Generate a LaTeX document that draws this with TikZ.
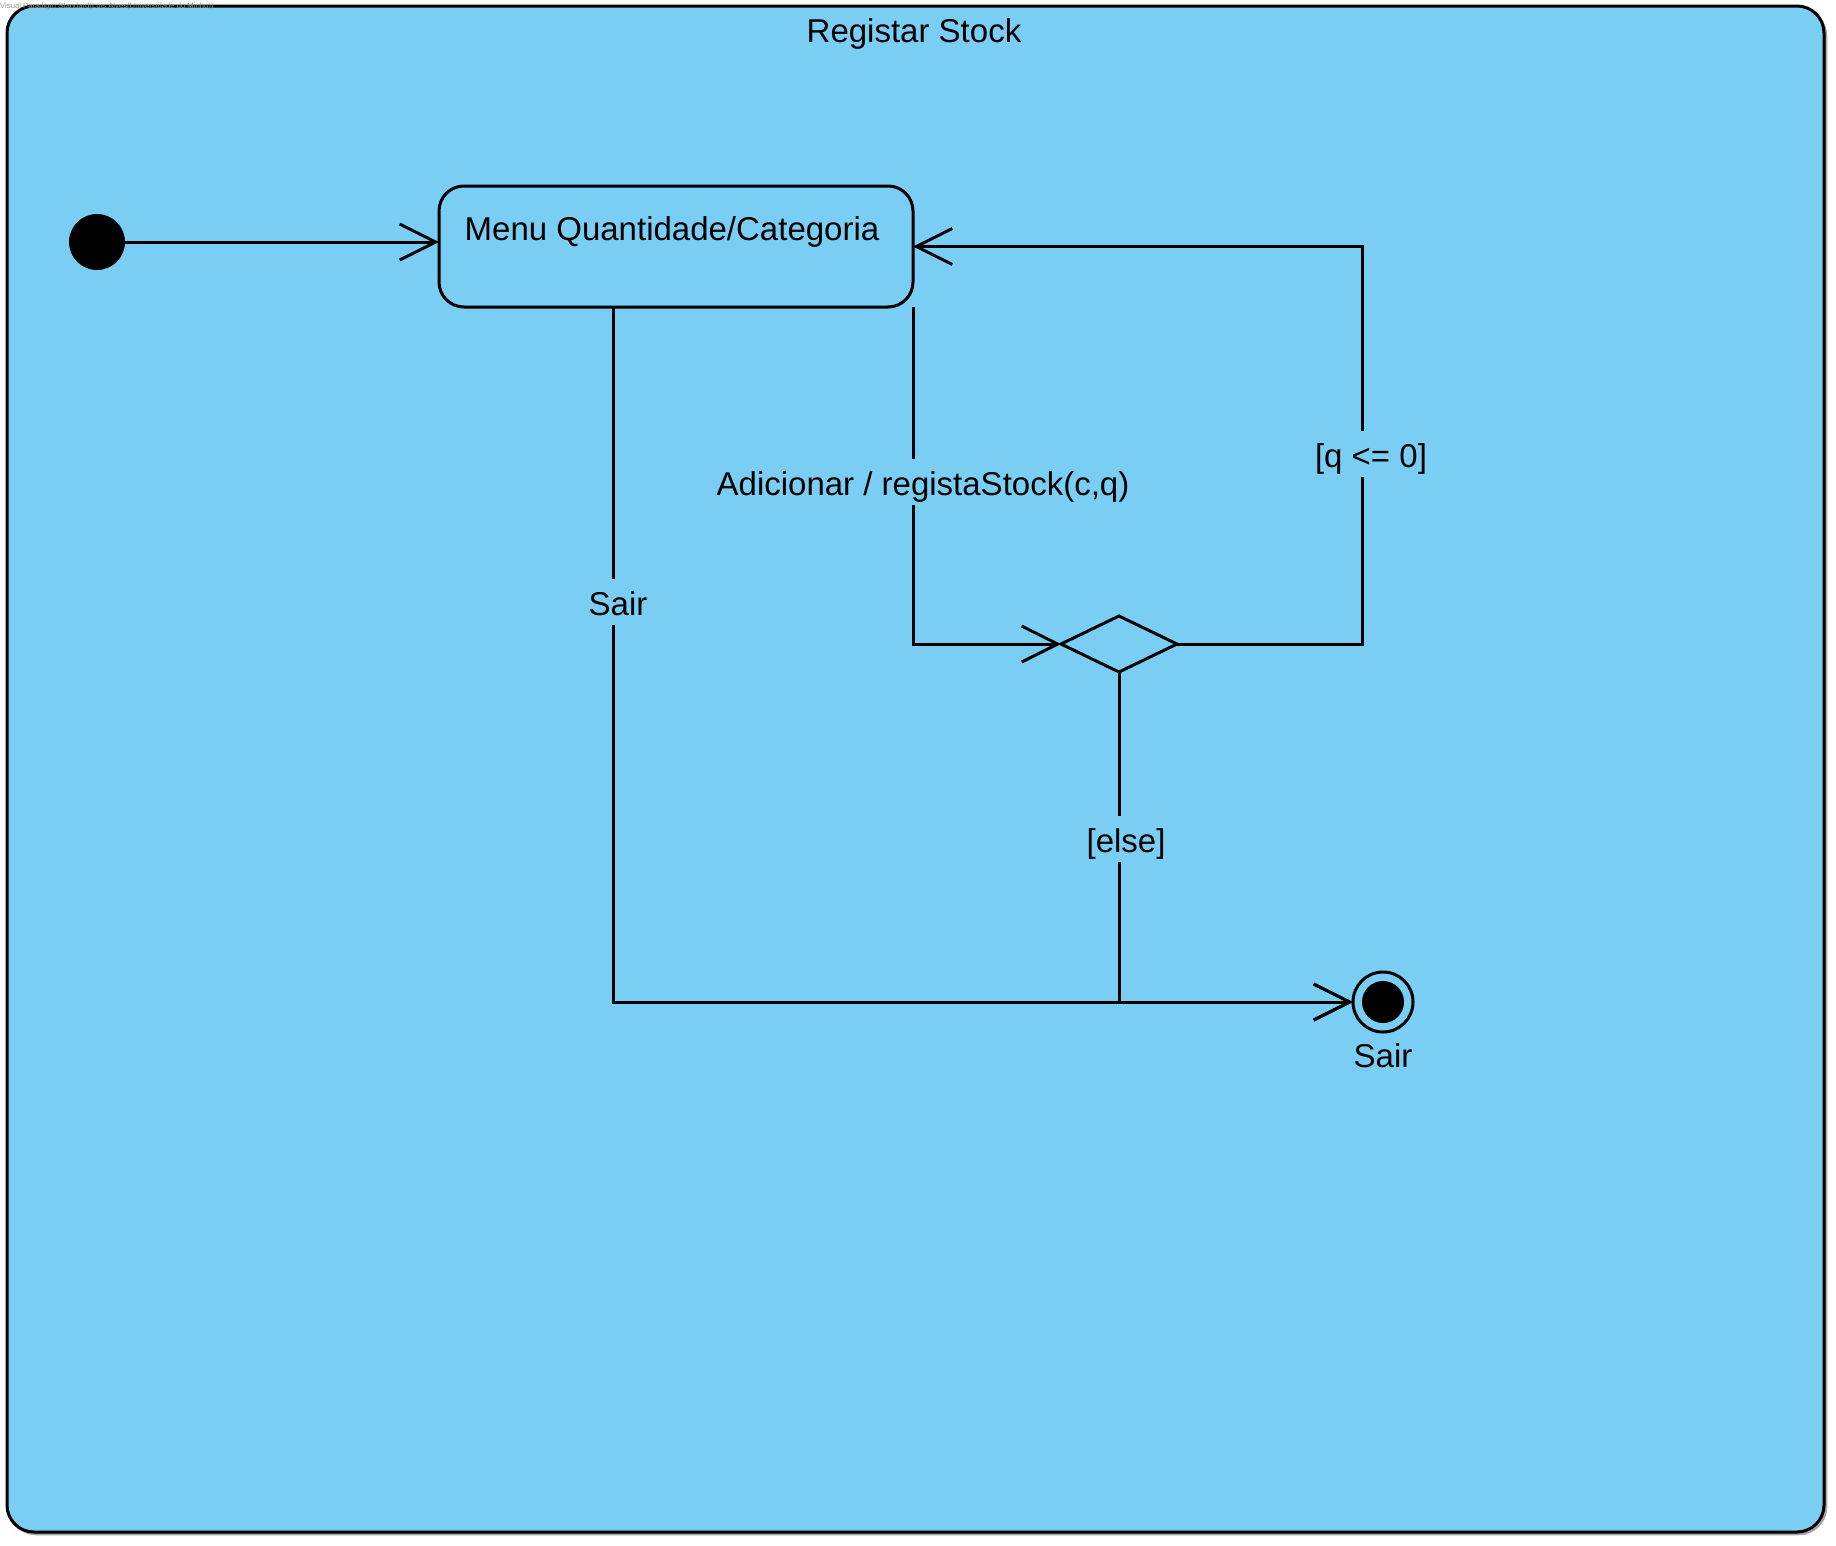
\documentclass[tikz,border=0pt]{standalone}
\usepackage{fontspec}
\setmainfont{Liberation Sans}
\usetikzlibrary{arrows.meta,shapes.geometric}
\definecolor{bg}{RGB}{122,206,244}
\begin{document}
\begin{tikzpicture}[x=1pt,y=-1pt,
  lw/.style={line width=3pt},
  txt/.style={font=\fontsize{33}{40}\selectfont, inner sep=0pt, anchor=base},
  edgelbl/.style={font=\fontsize{33}{40}\selectfont, anchor=base, fill=bg, text height=34pt, text depth=8pt, inner xsep=3pt, inner ysep=2pt},
  conn/.style={lw, line join=miter},
  arr/.style={conn, -{Straight Barb[length=36pt,width=36pt]}},
  statebox/.style={draw, lw, fill=bg, rounded corners=25pt, minimum width=474pt, minimum height=121pt, inner sep=0pt, outer sep=0pt},
  initst/.style={circle, fill=black, minimum size=56pt, inner sep=0pt, outer sep=0pt},
  finalst/.style={circle, draw, lw, fill=bg, minimum size=60pt, inner sep=0pt, outer sep=0pt},
  decision/.style={diamond, draw, lw, fill=bg, minimum width=116pt, minimum height=56pt, inner sep=0pt, outer sep=0pt}
]
\useasboundingbox (0,0) rectangle (1836,1545);
% frame
\draw[line width=2.5pt, black!35, rounded corners=27pt] (9,9) rectangle (1826,1534);
\draw[line width=3pt, fill=bg, rounded corners=27pt] (7,6) rectangle (1824,1532);
\node[font=\fontsize{7.7}{9}\selectfont, text=black!40, inner sep=0pt, anchor=base west] (wm) at (0,8) {Visual Paradigm Standard(Luis Alves(Universidade do Minho))};
\node[txt] (title) at (914,42) {Registar Stock};

% nodes
\node[initst] (init) at (97,242) {};
\node[statebox] (box) at (676,246.5) {};
\node[txt] (boxtxt) at (672,240) {Menu Quantidade/Categoria};
\node[decision] (dec) at (1119,644) {};
\node[finalst] (fin) at (1383,1002) {};
\fill (fin.center) circle (21pt);
\node[txt] (finlbl) at (1383,1067) {Sair};

\coordinate (sairtop) at (613,307);
\coordinate (adtop) at (913,307);

% connectors
\draw[arr] (init.east) -- (box.west |- init.center);
\draw[arr] (sairtop) |- (fin.west);
\draw[arr] (adtop) |- (dec.west);
\draw[arr] (dec.east) -- (1362,644) |- (box.east);
\draw[arr] (dec.south) |- (fin.west);

% labels
\node[edgelbl] (lsair) at (618,615) {Sair};
\node[edgelbl] (lad) at (923,495) {Adicionar / registaStock(c,q)};
\node[edgelbl] (lq) at (1371,467) {[q <= 0]};
\node[edgelbl] (lelse) at (1126,852) {[else]};
\end{tikzpicture}
\end{document}
